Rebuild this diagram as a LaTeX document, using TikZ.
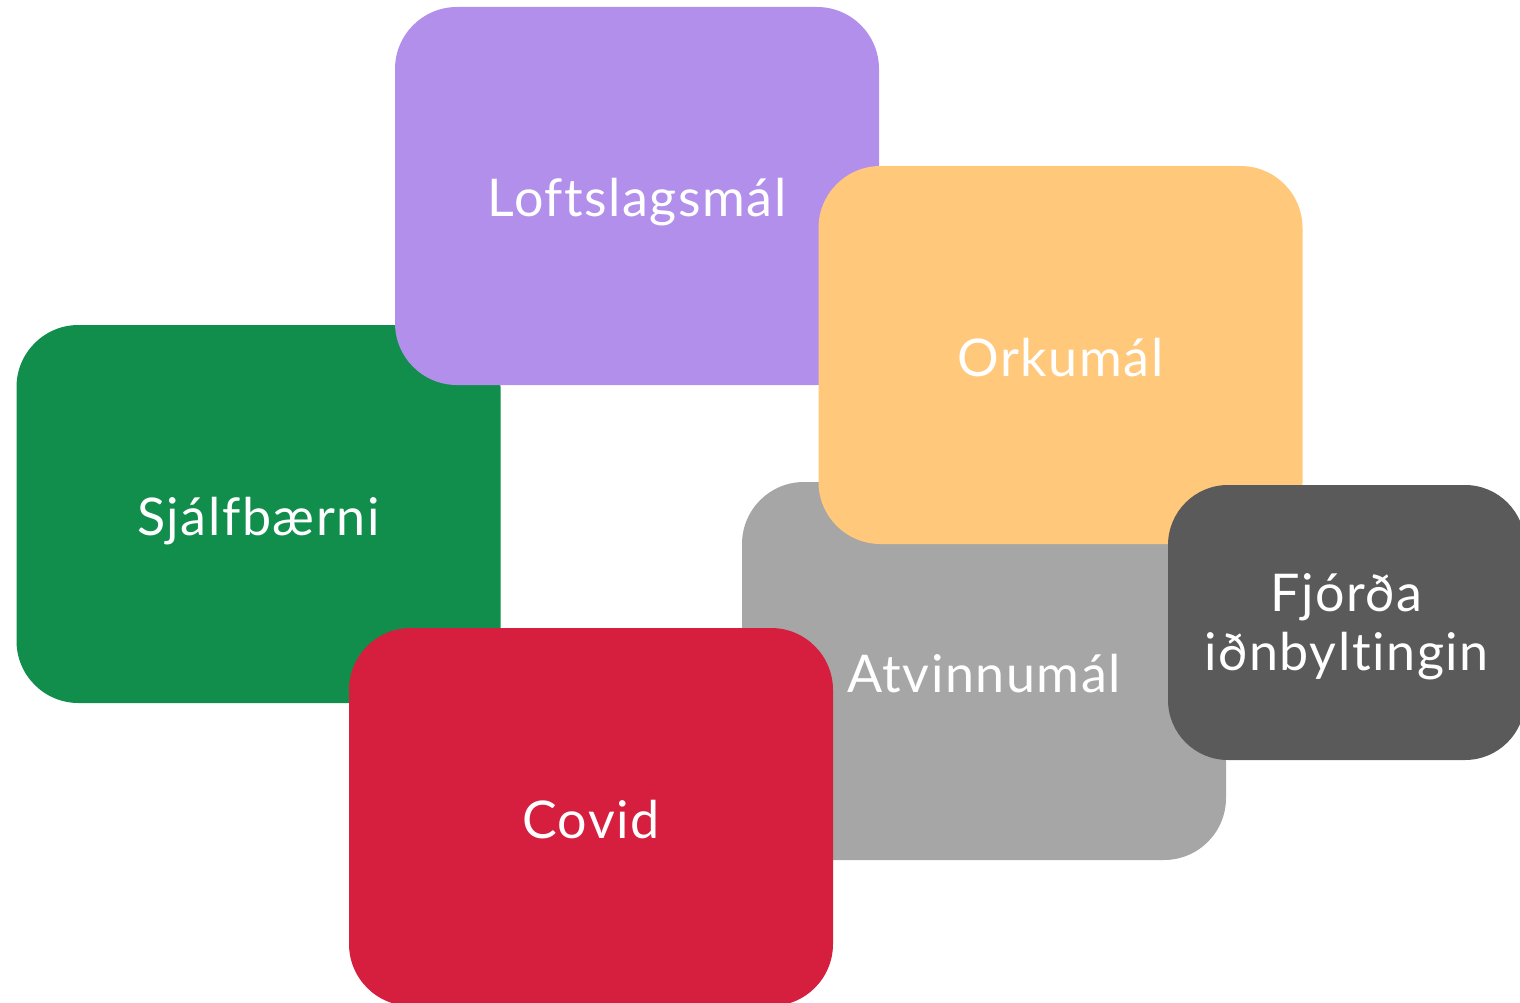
\documentclass[tikz,border=0pt]{standalone}
\usepackage{fontspec}
\setmainfont{Lato}[Ligatures=NoCommon, LetterSpace=3]
\definecolor{graenn}{RGB}{17,141,76}
\definecolor{lilla}{RGB}{179,143,236}
\definecolor{appels}{RGB}{255,200,122}
\definecolor{grar}{RGB}{166,166,166}
\definecolor{raudur}{RGB}{214,30,62}
\definecolor{dokkgrar}{RGB}{90,90,90}
\begin{document}
\begin{tikzpicture}[x=1pt, y=-1pt, font=\fontsize{52}{59}\selectfont,
    flokkur/.style={rectangle, rounded corners=62pt, minimum width=484pt, minimum height=378pt, inner sep=0pt, text=white, align=center, text height=42pt, text depth=0pt}]
            \useasboundingbox (0,0) rectangle (1520,1003);
            % reitir, neðsti fyrst
            \node[flokkur, fill=graenn] (sjalfb) at (258.5,514) {Sjálfbærni};
            \node[flokkur, fill=lilla] (loftsl) at (637,196) {Loftslagsmál};
            \node[flokkur, fill=grar] (atvinna) at (984,671) {Atvinnumál};
            \node[flokkur, fill=appels] (orka) at (1060.5,355) {Orkumál};
            \node[flokkur, fill=raudur] (covid) at (591,817) {Covid};
            \node[flokkur, fill=dokkgrar, minimum width=357pt, minimum height=275pt, rounded corners=60pt, text height=, text depth=0pt] (fjorda) at (1346.5,622.5) {Fjórða\\iðnbyltingin};
    \end{tikzpicture}
\end{document}
